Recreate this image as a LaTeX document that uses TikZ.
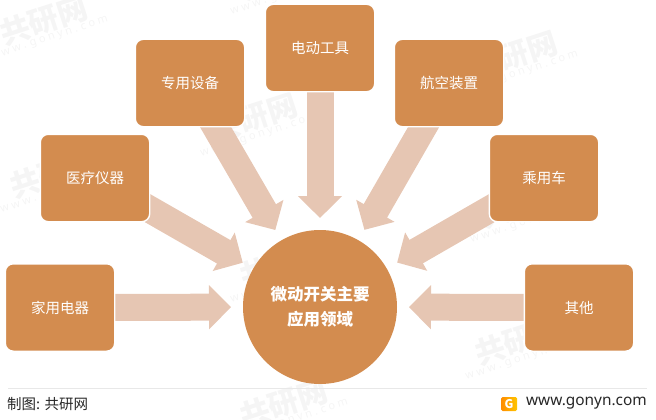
\documentclass[tikz,border=0pt]{standalone}
\usepackage{fontspec}
\usepackage{xcolor}
\setmainfont{Noto Sans CJK SC}
\newfontfamily\urlfont{Noto Sans}
\usetikzlibrary{arrows.meta,backgrounds}
\pgfdeclarelayer{marklayer}
\pgfsetlayers{marklayer,background,main}
\definecolor{boxorange}{HTML}{D38C4F}
\definecolor{arrowpeach}{HTML}{E6C6B3}
\definecolor{rulegray}{HTML}{E8E8E8}
\definecolor{wmgray}{HTML}{F5F5F5}
\tikzset{
    appbox/.style={draw=white,line width=1.4pt,fill=boxorange,rounded corners=8pt,minimum width=109.4pt,minimum height=87.4pt,text=white,font=\fontsize{14.5}{16}\selectfont,inner sep=0pt},
    hubnode/.style={circle,fill=boxorange,minimum size=154pt,text=white,align=center,inner sep=0pt,font=\fontsize{16.5}{25}\selectfont\bfseries},
    feedarrow/.style={arrowpeach,line width=27pt,-{Triangle[length=22pt,width=43pt]},shorten >=89pt},
    wmark/.style={text=wmgray,rotate=18,align=center,inner sep=0pt}
}
\begin{document}
\begin{tikzpicture}[x=1pt,y=-1pt]
    \useasboundingbox (0,0) rectangle (656,420);
    % watermarks
    \begin{pgfonlayer}{marklayer}
        \foreach \i/\wx/\wy in {a/45/25,b/255/122,c/55/178,d/285/268,e/285/408,f/515/60,g/525/208,h/520/345,i/285/-20}{
            \node[wmark,name=wm\i] at (\wx,\wy) {\fontsize{30}{30}\selectfont\bfseries 共研网\\[-2pt]\urlfont\fontsize{11}{12}\selectfont w w w . g o n y n . c o m};
        }
    \end{pgfonlayer}
    % boxes and centre
    \node[hubnode] (hub) at (320,307) {微动开关主要\\应用领域};
    \node[appbox] (home) at (60,307.5) {家用电器};
    \node[appbox] (medical) at (95,178) {医疗仪器};
    \node[appbox] (special) at (190,83) {专用设备};
    \node[appbox] (tools) at (320,48) {电动工具};
    \node[appbox] (aero) at (449,83) {航空装置};
    \node[appbox] (car) at (544,178) {乘用车};
    \node[appbox] (other) at (579,307.5) {其他};
    % arrows go under the boxes
    \begin{scope}[on background layer]
        \foreach \src in {home,medical,special,tools,aero,car,other}{
            \draw[feedarrow] (\src.center) -- (hub.center);
        }
    \end{scope}
    % footer
    \coordinate (ruleL) at (8,388);
    \coordinate (ruleR) at (647,388);
    \draw[rulegray,line width=0.8pt] (ruleL) -- (ruleR);
    \node[anchor=west,inner sep=0pt,font=\fontsize{14.5}{16}\selectfont,text=black!85] (credit) at (7,404) {制图: 共研网};
    \node[anchor=east,inner sep=0pt,font=\urlfont\fontsize{15.4}{17}\selectfont,text=black!85] (site) at (647,403) {www.gonyn.com};
    \node[rounded corners=1.5pt,left color=orange!90!yellow,right color=orange!45!yellow,minimum width=16pt,minimum height=14pt,inner sep=0pt,text=white,font=\fontsize{12}{12}\selectfont\bfseries] (logo) at (509,404) {G};
\end{tikzpicture}
\end{document}
